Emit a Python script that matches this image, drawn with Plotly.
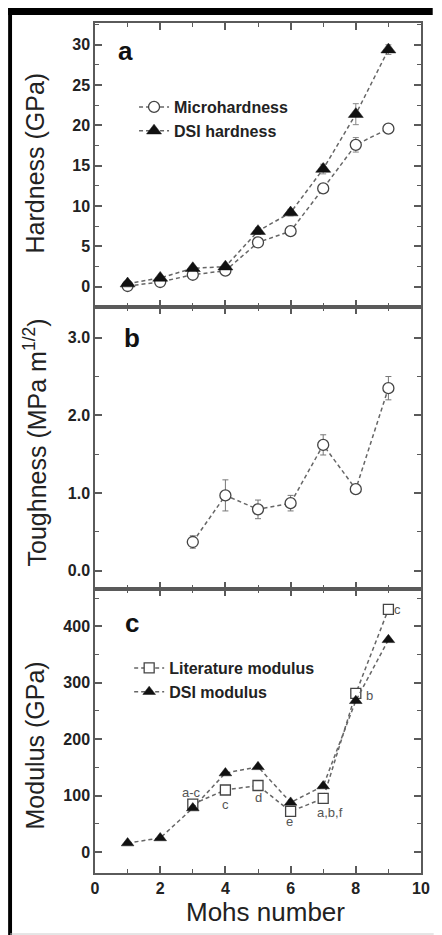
import plotly.graph_objects as go

# ---------------- data ----------------
mohs = [1, 2, 3, 4, 5, 6, 7, 8, 9]
micro_hardness = [0.1, 0.6, 1.5, 2.0, 5.5, 6.9, 12.2, 17.6, 19.6]
micro_hardness_err = [0.1, 0.1, 0.2, 0.2, 0.3, 0.3, 0.5, 0.9, 0.3]
dsi_hardness = [0.4, 1.1, 2.3, 2.5, 6.9, 9.2, 14.6, 21.4, 29.4]
dsi_hardness_err = [0.1, 0.1, 0.2, 0.2, 0.4, 0.4, 0.6, 1.3, 0.6]

tough_mohs = [3, 4, 5, 6, 7, 8, 9]
toughness = [0.37, 0.97, 0.79, 0.87, 1.62, 1.05, 2.35]
toughness_err = [0.08, 0.20, 0.12, 0.10, 0.13, 0.05, 0.15]

lit_mohs = [3, 4, 5, 6, 7, 8, 9]
lit_modulus = [85, 110, 118, 72, 95, 281, 430]
lit_refs = ["a-c", "c", "d", "e", "a,b,f", "b", "c"]
dsi_modulus = [16, 25, 78, 140, 151, 88, 117, 268, 376]

FONT = "Liberation Sans, Arial, sans-serif"
LINE_COL = "#666666"
MK_COL = "#444444"
AX_COL = "#5a5a5a"
DASH = "4px,3px"

fig = go.Figure()

# panel a
fig.add_trace(go.Scatter(
    x=mohs, y=micro_hardness, name="Microhardness", mode="lines+markers",
    line=dict(color=LINE_COL, width=1.5, dash=DASH),
    marker=dict(symbol="circle", size=11, color="white", line=dict(color=MK_COL, width=1.3)),
    error_y=dict(type="data", array=micro_hardness_err, color="#888", thickness=1, width=3),
    xaxis="x", yaxis="y", legend="legend"))
fig.add_trace(go.Scatter(
    x=mohs, y=dsi_hardness, name="DSI hardness", mode="lines+markers",
    line=dict(color=LINE_COL, width=1.5, dash=DASH),
    marker=dict(symbol="triangle-up", size=13, color="#111111", line=dict(color="#111111", width=0.5)),
    error_y=dict(type="data", array=dsi_hardness_err, color="#888", thickness=1, width=3),
    xaxis="x", yaxis="y", legend="legend"))

# panel b
fig.add_trace(go.Scatter(
    x=tough_mohs, y=toughness, name="Toughness", mode="lines+markers", showlegend=False,
    line=dict(color=LINE_COL, width=1.5, dash=DASH),
    marker=dict(symbol="circle", size=11, color="white", line=dict(color=MK_COL, width=1.3)),
    error_y=dict(type="data", array=toughness_err, color="#777", thickness=1, width=3),
    xaxis="x2", yaxis="y2"))

# panel c
fig.add_trace(go.Scatter(
    x=lit_mohs, y=lit_modulus, name="Literature modulus", mode="lines+markers",
    line=dict(color=LINE_COL, width=1.5, dash=DASH),
    marker=dict(symbol="square", size=10, color="white", line=dict(color=MK_COL, width=1.3)),
    xaxis="x3", yaxis="y3", legend="legend2"))
fig.add_trace(go.Scatter(
    x=mohs, y=dsi_modulus, name="DSI modulus", mode="lines+markers",
    line=dict(color=LINE_COL, width=1.5, dash=DASH),
    marker=dict(symbol="triangle-up", size=11, color="#111111", line=dict(color="#111111", width=0.5)),
    xaxis="x3", yaxis="y3", legend="legend2"))

tickfont = dict(family=FONT, size=16, color="#222222", weight="bold")

def xax(show_labels, anchor):
    return dict(
        range=[0, 10], dtick=2, tick0=0, showticklabels=show_labels, anchor=anchor,
        ticks="inside", ticklen=7, tickwidth=1.5, tickcolor=AX_COL,
        minor=dict(dtick=1, ticks="inside", ticklen=4, tickwidth=1.2, tickcolor=AX_COL),
        showline=True, linecolor=AX_COL, linewidth=1.5, mirror="ticks",
        showgrid=False, zeroline=False, tickfont=tickfont,
    )

def yax(rng, dtick, minor, domain, anchor, fmt=None):
    d = dict(
        range=rng, dtick=dtick, tick0=0, domain=domain, anchor=anchor,
        ticks="inside", ticklen=7, tickwidth=1.5, tickcolor=AX_COL,
        minor=dict(dtick=minor, ticks="inside", ticklen=4, tickwidth=1.2, tickcolor=AX_COL),
        showline=True, linecolor=AX_COL, linewidth=1.5, mirror="ticks",
        showgrid=False, zeroline=False, tickfont=tickfont,
    )
    if fmt:
        d["tickformat"] = fmt
    return d

H = 850.0
def py(px):  # pixel y (from top of figure) -> paper
    return (873 - px) / H
def pxx(px):
    return (px - 95) / 334.0

leg_font = dict(family=FONT, size=16, color="#222", weight="bold")
fig.update_layout(
    width=442, height=935,
    margin=dict(l=95, r=13, t=23, b=62, pad=0),
    paper_bgcolor="white", plot_bgcolor="white",
    font=dict(family=FONT),
    xaxis=xax(False, "y"),
    xaxis2=xax(False, "y2"),
    xaxis3=xax(True, "y3"),
    yaxis=yax([-2.5, 32.7], 5, 2.5, [566 / H, 1], "x"),
    yaxis2=yax([-0.235, 3.395], 1, 0.5, [284 / H, 566 / H], "x2", ".1f"),
    yaxis3=yax([-37, 466], 100, 50, [0, 284 / H], "x3"),
    legend=dict(x=pxx(135), y=py(90), xanchor="left", yanchor="top",
                bgcolor="rgba(0,0,0,0)", font=leg_font, itemwidth=30, tracegroupgap=0),
    legend2=dict(x=pxx(130), y=py(651), xanchor="left", yanchor="top",
                 bgcolor="rgba(0,0,0,0)", font=leg_font, itemwidth=30, tracegroupgap=0),
    showlegend=True,
)

ann = []
# axis titles
title_font = dict(family=FONT, size=25, color="#222")
ann.append(dict(text="Hardness (GPa)", x=pxx(34), y=py(163), xref="paper", yref="paper",
                textangle=-90, showarrow=False, font=title_font, xanchor="center", yanchor="middle"))
ann.append(dict(text="Toughness (MPa m<sup>1/2</sup>)", x=pxx(34), y=py(442), xref="paper", yref="paper",
                textangle=-90, showarrow=False, font=title_font, xanchor="center", yanchor="middle"))
ann.append(dict(text="Modulus (GPa)", x=pxx(34), y=py(745), xref="paper", yref="paper",
                textangle=-90, showarrow=False, font=title_font, xanchor="center", yanchor="middle"))
ann.append(dict(text="Mohs number", x=pxx(270), y=py(912), xref="paper", yref="paper",
                showarrow=False, font=dict(family=FONT, size=26, color="#222"), xanchor="center", yanchor="middle"))
# panel letters
pl_font = dict(family=FONT, size=26, color="#111", weight="bold")
for letter, xp, ypx in [("a", 117, 51), ("b", 123, 338), ("c", 124, 623)]:
    ann.append(dict(text=letter, x=pxx(xp), y=py(ypx), xref="paper", yref="paper",
                    showarrow=False, font=pl_font, xanchor="left", yanchor="middle"))
# reference letters near literature modulus points (offsets in data units)
ref_offsets = [(-0.05, 20), (0, -25), (0, -22), (-0.04, -18), (0.2, -24), (0.42, -3), (0.28, 0)]
for xv, yv, t, (dx, dy) in zip(lit_mohs, lit_modulus, lit_refs, ref_offsets):
    ann.append(dict(text=t, x=xv + dx, y=yv + dy, xref="x3", yref="y3", showarrow=False,
                    font=dict(family=FONT, size=13, color="#555"), xanchor="center", yanchor="middle"))
fig.update_layout(annotations=ann)

# outer black frame (top and left) and faint bottom line
fig.add_shape(type="rect", xref="paper", yref="paper", x0=pxx(6), x1=pxx(441), y0=py(8), y1=py(15),
              line=dict(width=0), fillcolor="black", layer="above")
fig.add_shape(type="rect", xref="paper", yref="paper", x0=pxx(6), x1=pxx(10), y0=py(8), y1=py(935),
              line=dict(width=0), fillcolor="black", layer="above")
fig.add_shape(type="line", xref="paper", yref="paper", x0=pxx(8), x1=pxx(442), y0=py(934), y1=py(934),
              line=dict(color="#cccccc", width=1))

post = "document.body.style.margin='0';document.body.style.overflow='hidden';"
fig.write_html("out.html", config={"displayModeBar": False}, post_script=post)
